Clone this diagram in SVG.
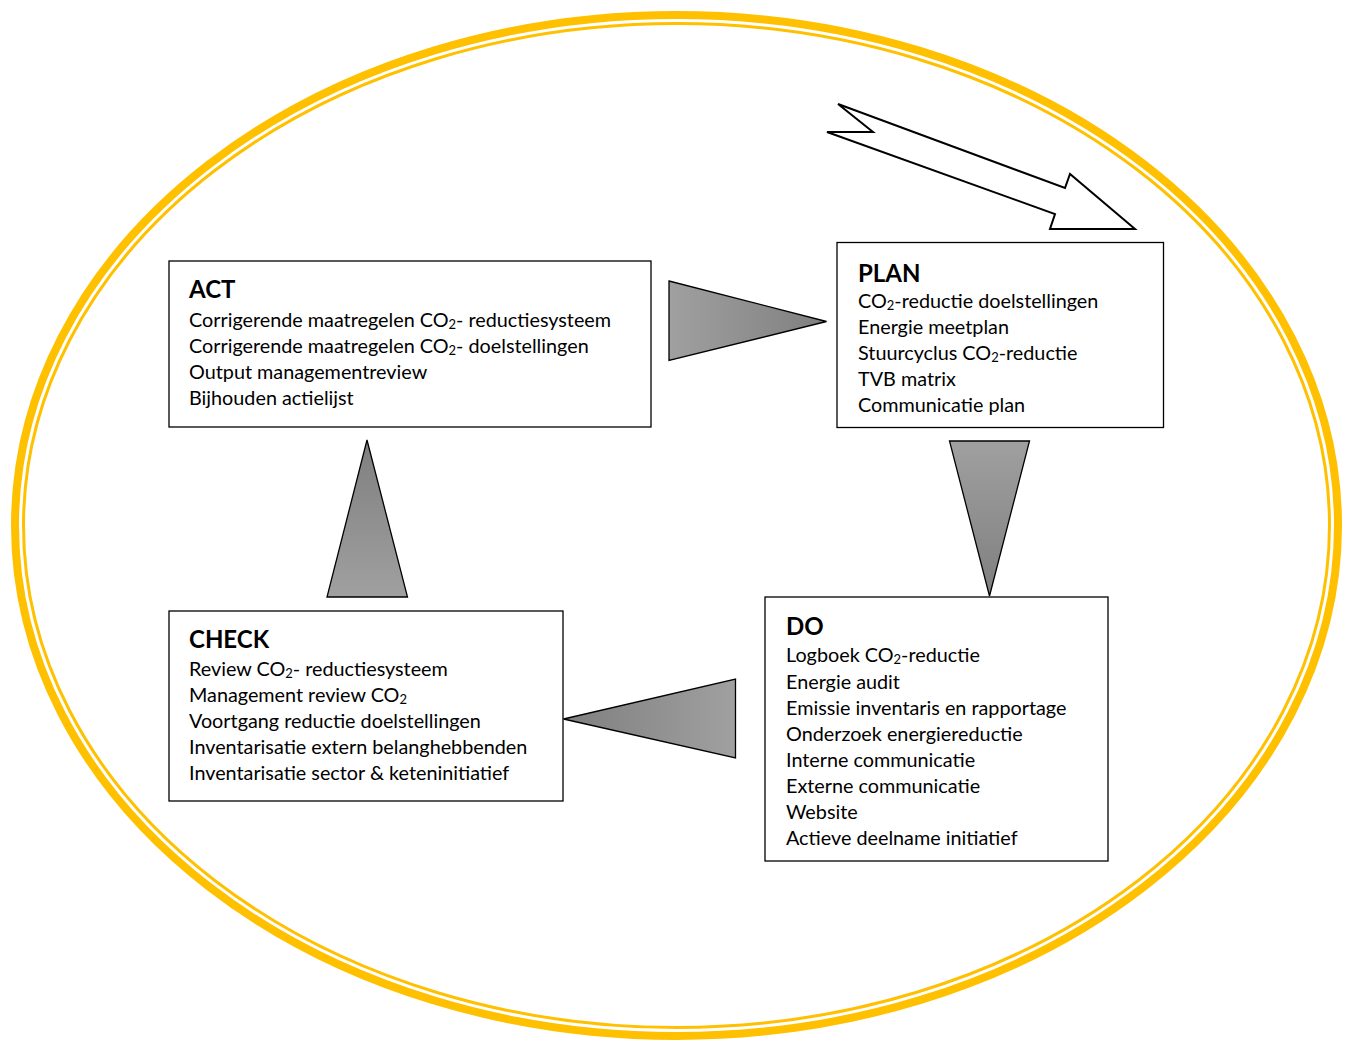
<svg xmlns="http://www.w3.org/2000/svg" width="1351" height="1044" viewBox="0 0 1351 1044">
<defs>
<style>
.box{fill:#ffffff;stroke:#000000;stroke-width:1.3}
.t{font-family:Lato,"Liberation Sans",sans-serif;font-size:19.8px;fill:#000000}
.h{font-family:Lato,"Liberation Sans",sans-serif;font-size:24px;font-weight:bold;fill:#000000}
.tri{stroke:#000000;stroke-width:1.3;stroke-linejoin:miter}
.s{font-size:13px}
</style>
<linearGradient id="gR" x1="0" y1="0" x2="1" y2="0"><stop offset="0" stop-color="#a0a0a0"/><stop offset="1" stop-color="#7f7f7f"/></linearGradient>
<linearGradient id="gL" x1="1" y1="0" x2="0" y2="0"><stop offset="0" stop-color="#a0a0a0"/><stop offset="1" stop-color="#7f7f7f"/></linearGradient>
<linearGradient id="gD" x1="0" y1="0" x2="0" y2="1"><stop offset="0" stop-color="#a0a0a0"/><stop offset="1" stop-color="#7f7f7f"/></linearGradient>
<linearGradient id="gU" x1="0" y1="1" x2="0" y2="0"><stop offset="0" stop-color="#a0a0a0"/><stop offset="1" stop-color="#7f7f7f"/></linearGradient>
</defs>
<rect width="1351" height="1044" fill="#ffffff"/>
<g id="frame">
<ellipse cx="676.5" cy="525.5" rx="661.5" ry="510.5" fill="none" stroke="#FFC000" stroke-width="8"/>
<ellipse cx="676.5" cy="525.5" rx="653" ry="502" fill="none" stroke="#FFC000" stroke-width="3"/>
</g>
<g id="input-arrow">
<polygon points="838,104 1065,188 1070,174 1135,229 1050,229 1055,214 827,132 873,132" fill="#ffffff" stroke="#000000" stroke-width="2" stroke-linejoin="miter"/>
</g>
<g id="connectors">
<polygon class="tri" points="669,281 826.5,321.5 669,360.5" fill="url(#gR)"/>
<polygon class="tri" points="949.5,441 1029.5,441 989.5,596" fill="url(#gD)"/>
<polygon class="tri" points="735.5,679 735.5,758 563.5,719" fill="url(#gL)"/>
<polygon class="tri" points="367,440 407.5,597 327,597" fill="url(#gU)"/>
</g>
<g id="act">
<rect class="box" x="169" y="261" width="482" height="166"/>
<text class="h" x="189" y="298">ACT</text>
<text class="t" x="189" y="327">Corrigerende maatregelen CO<tspan class="s" dy="2">2</tspan><tspan dy="-2">- reductiesysteem</tspan></text>
<text class="t" x="189" y="353">Corrigerende maatregelen CO<tspan class="s" dy="2">2</tspan><tspan dy="-2">- doelstellingen</tspan></text>
<text class="t" x="189" y="379">Output managementreview</text>
<text class="t" x="189" y="405">Bijhouden actielijst</text>
</g>
<g id="plan">
<rect class="box" x="837" y="242.5" width="326.5" height="185"/>
<text class="h" x="858" y="282">PLAN</text>
<text class="t" x="858" y="308">CO<tspan class="s" dy="2">2</tspan><tspan dy="-2">-reductie doelstellingen</tspan></text>
<text class="t" x="858" y="334">Energie meetplan</text>
<text class="t" x="858" y="360">Stuurcyclus CO<tspan class="s" dy="2">2</tspan><tspan dy="-2">-reductie</tspan></text>
<text class="t" x="858" y="386">TVB matrix</text>
<text class="t" x="858" y="412">Communicatie plan</text>
</g>
<g id="do">
<rect class="box" x="765" y="597" width="343" height="264"/>
<text class="h" x="786" y="635">DO</text>
<text class="t" x="786" y="662">Logboek CO<tspan class="s" dy="2">2</tspan><tspan dy="-2">-reductie</tspan></text>
<text class="t" x="786" y="689">Energie audit</text>
<text class="t" x="786" y="715">Emissie inventaris en rapportage</text>
<text class="t" x="786" y="741">Onderzoek energiereductie</text>
<text class="t" x="786" y="767">Interne communicatie</text>
<text class="t" x="786" y="793">Externe communicatie</text>
<text class="t" x="786" y="819">Website</text>
<text class="t" x="786" y="845">Actieve deelname initiatief</text>
</g>
<g id="check">
<rect class="box" x="169" y="611" width="394" height="190"/>
<text class="h" x="189" y="648">CHECK</text>
<text class="t" x="189" y="676">Review CO<tspan class="s" dy="2">2</tspan><tspan dy="-2">- reductiesysteem</tspan></text>
<text class="t" x="189" y="702">Management review CO<tspan class="s" dy="2">2</tspan></text>
<text class="t" x="189" y="728">Voortgang reductie doelstellingen</text>
<text class="t" x="189" y="754">Inventarisatie extern belanghebbenden</text>
<text class="t" x="189" y="780">Inventarisatie sector &amp; keteninitiatief</text>
</g>
</svg>
